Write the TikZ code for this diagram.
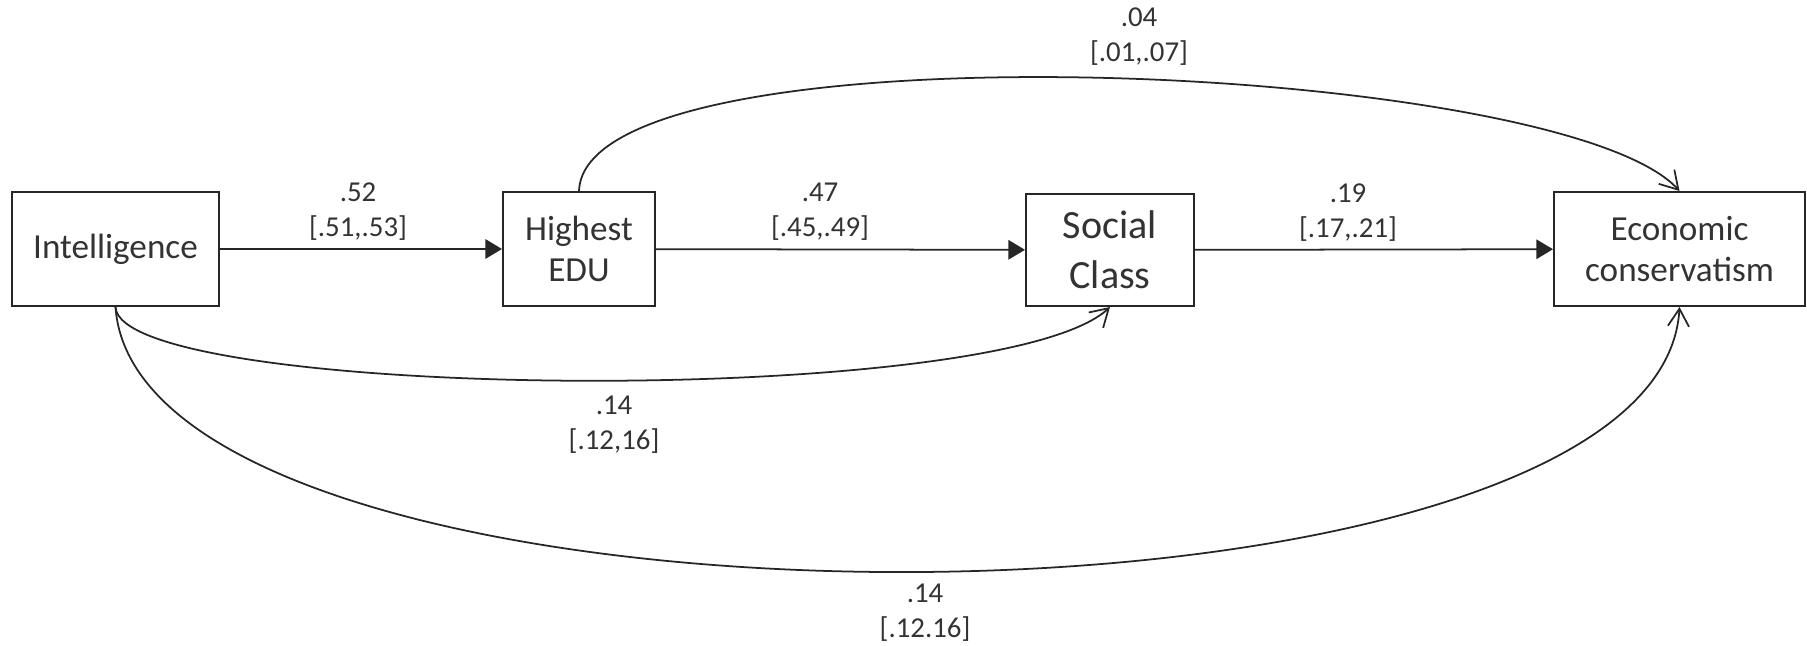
\documentclass[tikz,border=0pt]{standalone}
\usepackage{fontspec}
\setmainfont{Carlito}
\usetikzlibrary{arrows.meta}

\begin{document}
\begin{tikzpicture}[x=0.01cm, y=-0.01cm,
    box/.style={draw=black!85, line width=0.55pt, inner sep=0pt, align=center,
        font=\fontsize{10}{11.6}\selectfont, text=black!80},
    coef/.style={align=center, inner sep=0pt, font=\fontsize{8.2}{10}\selectfont, text=black!80},
    direct/.style={draw=black!85, line width=0.5pt, -{Triangle[length=4.7pt,width=5.5pt]}},
    curved/.style={draw=black!85, line width=0.5pt, -{Straight Barb[length=5pt,width=6pt]}}]
    \useasboundingbox (0,0) rectangle (1807,646);

    % Variables
    \node[box, minimum width=2.07cm, minimum height=1.14cm] (intel) at (115.5,249) {Intelligence};
    \node[box, minimum width=1.52cm, minimum height=1.14cm] (edu) at (579,249) {Highest\\EDU};
    \node[box, minimum width=1.68cm, minimum height=1.12cm,
        font=\fontsize{11.4}{14.2}\selectfont] (soc) at (1110,250) {Social\\Class};
    \node[box, minimum width=2.51cm, minimum height=1.14cm] (econ) at (1679.5,249) {Economic\\conservatism};

    % Direct paths
    \draw[direct] (intel) -- (edu);
    \draw[direct] (edu) -- (soc);
    \draw[direct] (soc) -- (econ);

    % Indirect paths
    \draw[curved] (edu.north) .. controls (585,20) and (1560,60) .. (econ.north);
    \draw[curved] (intel.south) .. controls (120,400) and (1000,410) .. (soc.south);
    \draw[curved] (intel.south) .. controls (140,660) and (1660,660) .. (econ.south);

    % Labels
    \node[coef] (c52) at (358,212) {.52\\{[.51,.53]}};
    \node[coef] (c47) at (820,212) {.47\\{[.45,.49]}};
    \node[coef] (c19) at (1348,213) {.19\\{[.17,.21]}};
    \node[coef] (c04) at (1139,37) {.04\\{[.01,.07]}};
    \node[coef] (c14a) at (614,425) {.14\\{[.12,16]}};
    \node[coef] (c14b) at (925,613) {.14\\{[.12.16]}};
\end{tikzpicture}
\end{document}
